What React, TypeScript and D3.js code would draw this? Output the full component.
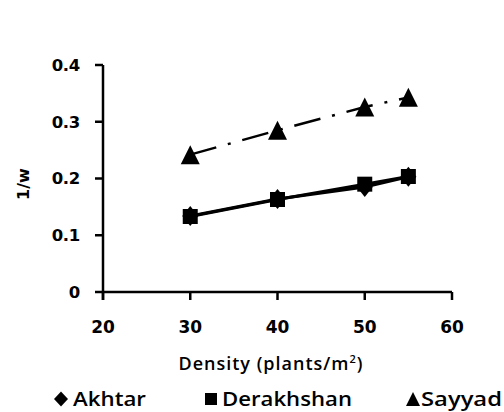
import React from "react";
import * as d3 from "d3";

const densities = [30, 40, 50, 55];
const akhtar = [0.134, 0.164, 0.185, 0.203];
const derakhshan = [0.133, 0.163, 0.19, 0.2035];
const sayyad = [0.242, 0.285, 0.326, 0.343];
const xTicks = [20, 30, 40, 50, 60];
const yTicks = [0, 0.1, 0.2, 0.3, 0.4];
const seriesNames = ["Akhtar", "Derakhshan", "Sayyad"];

const W = 504, H = 412;
const M = { left: 103, right: 52, top: 65, bottom: 120 };

const diamondPath = (hw: number, hh: number) => `M0,${-hh}L${hw},0L0,${hh}L${-hw},0Z`;
const squarePath = (h: number) => `M${-h},${-h}H${h}V${h}H${-h}Z`;
const triPath = (hw: number, hh: number) => `M0,${-hh}L${hw},${hh}L${-hw},${hh}Z`;

export default function App() {
  const x = d3.scaleLinear().domain([20, 60]).range([M.left, W - M.right]);
  const y = d3.scaleLinear().domain([0, 0.4]).range([H - M.bottom, M.top]);
  const line = d3.line<number>().x((_, i) => x(densities[i])).y((d) => y(d));
  const tickFont = "'DejaVu Sans', sans-serif";
  const textFont = "'Open Sans', sans-serif";
  const series = [
    { name: seriesNames[0], data: akhtar, sym: diamondPath(8, 10), dash: undefined, w: 3 },
    { name: seriesNames[1], data: derakhshan, sym: squarePath(7.5), dash: undefined, w: 3 },
    { name: seriesNames[2], data: sayyad, sym: triPath(9.5, 9.5), dash: "27,12,3,12", w: 2.5 },
  ];
  const legendSyms = [diamondPath(7, 7.5), squarePath(6), triPath(7, 7)];
  const legendPos = [
    { sx: 61, tx: 73, len: 73 },
    { sx: 211, tx: 222, len: 130 },
    { sx: 413, tx: 421, len: 81 },
  ];
  const y0 = y(0);
  return (
    <svg width={W} height={H} style={{ position: "absolute", left: 0, top: 0, background: "#fff" }}>
      {/* axes */}
      <line x1={x(20)} x2={x(60)} y1={y0} y2={y0} stroke="#000" strokeWidth={2.5} />
      <line x1={x(20)} x2={x(20)} y1={y(0.4)} y2={y0 + 8} stroke="#000" strokeWidth={2.5} />
      {yTicks.map((t) => (
        <g key={"y" + t}>
          <line x1={x(20) - 8} x2={x(20)} y1={y(t)} y2={y(t)} stroke="#000" strokeWidth={2.5} />
          <text x={80} y={y(t)} dy="0.36em" textAnchor="end" fontSize={16.5} fontWeight={700} fontFamily={tickFont} letterSpacing={-0.3}>{t === 0 ? "0" : t.toFixed(1)}</text>
        </g>
      ))}
      {xTicks.map((t) => (
        <g key={"x" + t}>
          <line x1={x(t)} x2={x(t)} y1={y0} y2={y0 + 8} stroke="#000" strokeWidth={2.5} />
          <text x={x(t)} y={333} textAnchor="middle" fontSize={17} fontWeight={700} fontFamily={tickFont}>{t}</text>
        </g>
      ))}
      <text transform={`translate(29,184) rotate(-90)`} textAnchor="middle" fontSize={16} fontWeight={700} fontFamily={tickFont}>1/w</text>
      <text x={271} y={370} textAnchor="middle" fontSize={18} fontWeight={600} fontFamily={textFont} letterSpacing={1}>
        Density (plants/m<tspan fontSize={11} dy={-7}>2</tspan><tspan dy={7}>)</tspan>
      </text>
      {/* series */}
      {series.map((s) => (
        <g key={s.name}>
          <path d={line(s.data)!} fill="none" stroke="#000" strokeWidth={s.w} strokeDasharray={s.dash} />
          {s.data.map((v, i) => (
            <path key={i} d={s.sym} transform={`translate(${x(densities[i])},${y(v)})`} fill="#000" />
          ))}
        </g>
      ))}
      {/* legend */}
      {legendPos.map((p, i) => (
        <g key={"l" + i}>
          <path d={legendSyms[i]} transform={`translate(${p.sx},399)`} fill="#000" />
          <text x={p.tx} y={406} fontSize={19} fontWeight={600} fontFamily={textFont} textLength={p.len} lengthAdjust="spacingAndGlyphs">{seriesNames[i]}</text>
        </g>
      ))}
    </svg>
  );
}
